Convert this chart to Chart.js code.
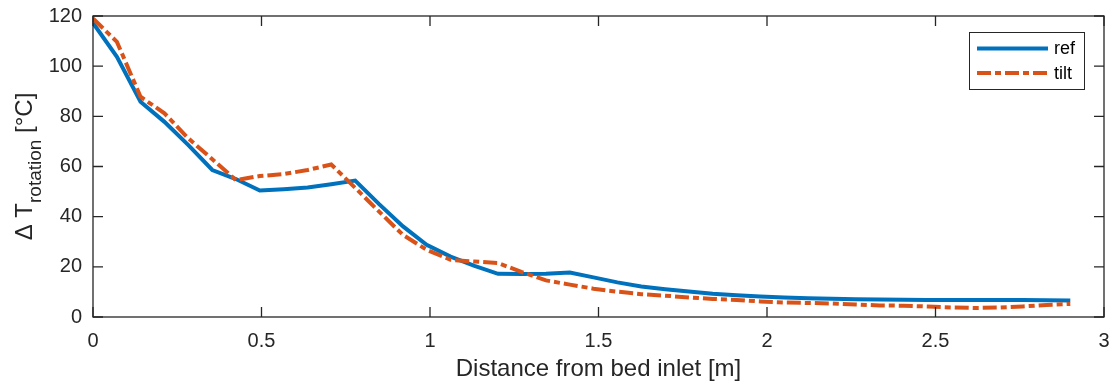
<!DOCTYPE html>
<html>
<head>
<meta charset="utf-8">
<script src="https://cdn.jsdelivr.net/npm/chart.js@4/dist/chart.umd.min.js"></script>
<style>
  html, body { margin: 0; padding: 0; background: #fff; }
  #wrap { width: 1112px; height: 385px; }
</style>
</head>
<body>
<div id="wrap"><canvas id="tempChart" width="1112" height="385"></canvas></div>
<script>
// distance along the bed [m]
const distance = [0, 0.071, 0.141, 0.212, 0.283, 0.354, 0.424, 0.495, 0.566, 0.637,
  0.707, 0.778, 0.849, 0.920, 0.990, 1.061, 1.132, 1.202, 1.273, 1.344,
  1.415, 1.485, 1.556, 1.627, 1.698, 1.768, 1.839, 1.910, 1.980, 2.051,
  2.122, 2.193, 2.263, 2.334, 2.405, 2.476, 2.546, 2.617, 2.688, 2.759,
  2.829, 2.900];

// temperature rise per rotation [°C]
const refDT = [117.2, 103.7, 85.8, 77.8, 68.5, 58.6, 55.0, 50.4, 50.9, 51.6,
  52.9, 54.4, 45.0, 36.1, 28.8, 24.1, 20.4, 17.2, 17.1, 17.2,
  17.7, 15.8, 13.8, 12.2, 11.1, 10.2, 9.3, 8.7, 8.2, 7.8,
  7.5, 7.3, 7.1, 7.0, 6.9, 6.8, 6.8, 6.8, 6.8, 6.8,
  6.7, 6.6];
const tiltDT = [119.0, 109.7, 87.8, 81.2, 71.2, 62.9, 54.6, 56.2, 57.0, 58.6,
  60.8, 51.5, 42.0, 32.7, 26.8, 22.8, 22.1, 21.5, 17.9, 14.6,
  12.9, 11.3, 10.1, 9.1, 8.5, 7.8, 7.2, 6.8, 6.2, 5.8,
  5.6, 5.4, 5.0, 4.6, 4.5, 4.2, 3.8, 3.6, 3.8, 4.2,
  4.8, 5.2];

const seriesNames = ["ref", "tilt"];
const xTicks = [0, 0.5, 1, 1.5, 2, 2.5, 3];
const yTicks = [0, 20, 40, 60, 80, 100, 120];

const FONT = "'Liberation Sans', Arial, Helvetica, sans-serif";
const INK = "#262626";

const toPoints = (ys) => ys.map((y, i) => ({ x: distance[i], y: y }));

// box, inward ticks, axis titles and legend drawn in the MATLAB look
const matlabAxes = {
  id: "matlabAxes",
  afterDraw(chart) {
    const ctx = chart.ctx;
    const a = chart.chartArea;
    const xs = chart.scales.x, ys = chart.scales.y;
    const tick = 10;
    ctx.save();
    ctx.strokeStyle = INK;
    ctx.lineWidth = 1.3;
    ctx.strokeRect(a.left, a.top, a.right - a.left, a.bottom - a.top);
    ctx.beginPath();
    xTicks.forEach(v => {
      const px = xs.getPixelForValue(v);
      ctx.moveTo(px, a.bottom); ctx.lineTo(px, a.bottom - tick);
      ctx.moveTo(px, a.top); ctx.lineTo(px, a.top + tick);
    });
    yTicks.forEach(v => {
      const py = ys.getPixelForValue(v);
      ctx.moveTo(a.left, py); ctx.lineTo(a.left + tick, py);
      ctx.moveTo(a.right, py); ctx.lineTo(a.right - tick, py);
    });
    ctx.stroke();

    // x title
    ctx.fillStyle = INK;
    ctx.font = "24px " + FONT;
    ctx.textAlign = "center";
    ctx.textBaseline = "alphabetic";
    ctx.fillText("Distance from bed inlet [m]", (a.left + a.right) / 2, 376);

    // y title with subscript
    ctx.translate(32, (a.top + a.bottom) / 2);
    ctx.rotate(-Math.PI / 2);
    ctx.textAlign = "left";
    const mainFont = "24px " + FONT, subFont = "19px " + FONT;
    ctx.font = mainFont;
    const w1 = ctx.measureText("\u0394 T").width;
    const w3 = ctx.measureText(" [\u00B0C]").width;
    ctx.font = subFont;
    const w2 = ctx.measureText("rotation").width;
    let x0 = -(w1 + w2 + w3) / 2;
    ctx.font = mainFont;
    ctx.fillText("\u0394 T", x0, 0);
    ctx.font = subFont;
    ctx.fillText("rotation", x0 + w1, 9);
    ctx.font = mainFont;
    ctx.fillText(" [\u00B0C]", x0 + w1 + w2, 0);
    ctx.restore();

    // legend
    ctx.save();
    const lx = 969, ly = 32, lw = 115, lh = 57;
    ctx.fillStyle = "#fff";
    ctx.fillRect(lx, ly, lw, lh);
    ctx.strokeStyle = INK;
    ctx.lineWidth = 1;
    ctx.strokeRect(lx + 0.5, ly + 0.5, lw, lh);
    const rows = [48.5, 73];
    chart.data.datasets.forEach((ds, i) => {
      ctx.strokeStyle = ds.borderColor;
      ctx.lineWidth = ds.borderWidth;
      ctx.setLineDash(ds.borderDash || []);
      ctx.beginPath();
      ctx.moveTo(977, rows[i]);
      ctx.lineTo(1048, rows[i]);
      ctx.stroke();
      ctx.setLineDash([]);
      ctx.fillStyle = "#000";
      ctx.font = "18px " + FONT;
      ctx.textAlign = "left";
      ctx.textBaseline = "middle";
      ctx.fillText(ds.label, 1054, rows[i] + 1);
    });
    ctx.restore();
  }
};

new Chart(document.getElementById("tempChart"), {
  type: "line",
  data: {
    datasets: [
      {
        label: seriesNames[0],
        data: toPoints(refDT),
        borderColor: "#0072BD",
        borderWidth: 4,
        pointRadius: 0,
        tension: 0,
        order: 1
      },
      {
        label: seriesNames[1],
        data: toPoints(tiltDT),
        borderColor: "#D95319",
        borderWidth: 4,
        borderDash: [14, 4, 6, 4],
        pointRadius: 0,
        tension: 0,
        order: 0
      }
    ]
  },
  options: {
    responsive: false,
    animation: false,
    devicePixelRatio: 1,
    layout: { padding: { left: 0, top: 16, right: 8, bottom: 0 } },
    plugins: { legend: { display: false }, tooltip: { enabled: false } },
    scales: {
      x: {
        type: "linear",
        min: 0, max: 3,
        afterFit: (s) => { s.height = 68; s.paddingLeft = 0; s.paddingRight = 0; },
        afterBuildTicks: (s) => { s.ticks = xTicks.map(v => ({ value: v })); },
        grid: { display: false, drawTicks: false },
        border: { display: false },
        ticks: { color: INK, font: { family: FONT, size: 20 }, padding: 12, maxRotation: 0,
                 callback: (v) => String(v) }
      },
      y: {
        min: 0, max: 120,
        afterFit: (s) => { s.width = 93; s.paddingTop = 0; s.paddingBottom = 0; },
        afterBuildTicks: (s) => { s.ticks = yTicks.map(v => ({ value: v })); },
        grid: { display: false, drawTicks: false },
        border: { display: false },
        ticks: { color: INK, font: { family: FONT, size: 20 }, padding: 11,
                 callback: (v) => String(v) }
      }
    }
  },
  plugins: [matlabAxes]
});
</script>
</body>
</html>
